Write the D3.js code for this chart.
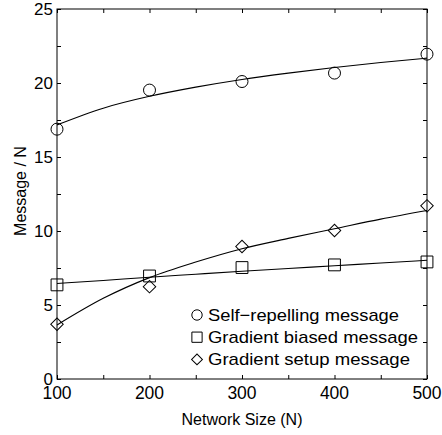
<!DOCTYPE html>
<html>
<head>
<meta charset="utf-8">
<script src="https://cdn.jsdelivr.net/npm/d3@7"></script>
<style>
  body { margin: 0; background: #fff; }
  text { font-family: "Liberation Sans", Arial, sans-serif; }
</style>
</head>
<body>
<div id="chart"></div>
<script>
// measured points
const sizes = [100, 200, 300, 400, 500];
const selfRepelling = [16.88, 19.52, 20.1, 20.67, 21.95];
const gradientBiased = [6.36, 6.96, 7.53, 7.71, 7.91];
const gradientSetup = [3.7, 6.24, 8.95, 10.03, 11.7];

// fitted curves
const fitSizes = [100, 150, 200, 250, 300, 350, 400, 450, 500];
const selfFit = [17.17, 18.3, 19.1, 19.72, 20.24, 20.67, 21.05, 21.38, 21.68];
const biasedFit = [6.45, 6.66, 6.88, 7.08, 7.28, 7.47, 7.65, 7.84, 8.02];
const setupFit = [3.65, 5.45, 6.85, 7.9, 8.8, 9.5, 10.15, 10.8, 11.38];

const xTicks = [100, 200, 300, 400, 500];
const yTicks = [0, 5, 10, 15, 20, 25];
const legendLabels = ["Self\u2212repelling message", "Gradient biased message", "Gradient setup message"];

const W = 442, H = 435;
const margin = {top: 9, right: 15, bottom: 56, left: 57};
const width = W - margin.left - margin.right,
    height = H - margin.top - margin.bottom;

const svg = d3.select("#chart")
    .append("svg")
    .attr("width", W)
    .attr("height", H);
const g = svg.append("g")
    .attr("transform", `translate(${margin.left},${margin.top})`);

const x = d3.scaleLinear().domain([100, 500]).range([0, width]);
const y = d3.scaleLinear().domain([0, 25]).range([height, 0]);

const minorX = d3.range(150, 500, 100);
const minorY = d3.range(2.5, 25, 5);

// ticks pointing inward on all four sides
function tickAxis(axis, ticks, len, transform) {
    const a = g.append("g")
        .attr("transform", transform)
        .call(axis.tickValues(ticks).tickSize(len).tickFormat(""));
    a.select(".domain").remove();
    a.selectAll("line").attr("stroke", "#000");
}
tickAxis(d3.axisTop(x), xTicks.concat(minorX), 4, `translate(0,${height})`);
tickAxis(d3.axisBottom(x), xTicks.concat(minorX), 4, "translate(0,0)");
tickAxis(d3.axisRight(y), yTicks.concat(minorY), 4, "translate(0,0)");
tickAxis(d3.axisLeft(y), yTicks.concat(minorY), 4, `translate(${width},0)`);

// box
g.append("rect")
    .attr("width", width)
    .attr("height", height)
    .attr("fill", "none")
    .attr("stroke", "#000")
    .attr("stroke-width", 1);

// tick labels
g.selectAll(".xlab")
    .data(xTicks)
    .enter().append("text")
    .attr("x", d => x(d))
    .attr("y", height + 20)
    .attr("text-anchor", "middle")
    .style("font-size", "17.5px")
    .text(d => d);
g.selectAll(".ylab")
    .data(yTicks)
    .enter().append("text")
    .attr("x", -4)
    .attr("y", d => y(d) + 6)
    .attr("text-anchor", "end")
    .style("font-size", "17px")
    .text(d => d);

// axis titles
svg.append("text")
    .attr("x", margin.left + width / 2)
    .attr("y", 424.5)
    .attr("text-anchor", "middle")
    .style("font-size", "16px")
    .text("Network Size (N)");
svg.append("text")
    .attr("transform", "rotate(-90)")
    .attr("x", -191)
    .attr("y", 26)
    .attr("text-anchor", "middle")
    .style("font-size", "16px")
    .text("Message / N");

// fit lines
const line = d3.line()
    .x(d => x(d[0]))
    .y(d => y(d[1]))
    .curve(d3.curveMonotoneX);
[selfFit, biasedFit, setupFit].forEach(vals => {
    g.append("path")
        .datum(fitSizes.map((s, i) => [s, vals[i]]))
        .attr("d", line)
        .attr("fill", "none")
        .attr("stroke", "#000")
        .attr("stroke-width", 1.1);
});

// markers: circle, square, diamond (square turned 45deg)
const symbols = [d3.symbolCircle, d3.symbolSquare, d3.symbolSquare];
const rotations = [0, 0, 45];
function marker(sel, i, scale) {
    const sizes = [113, 140, 78];
    sel.attr("d", d3.symbol().type(symbols[i]).size(sizes[i] * scale))
        .attr("fill", "none")
        .attr("stroke", "#000")
        .attr("stroke-width", 1);
}
[selfRepelling, gradientBiased, gradientSetup].forEach((vals, i) => {
    g.selectAll(".m" + i)
        .data(sizes.map((s, j) => [s, vals[j]]))
        .enter().append("path")
        .attr("transform", d => `translate(${x(d[0])},${y(d[1])}) rotate(${rotations[i]})`)
        .call(marker, i, 1);
});

// legend
const legendWidths = [191, 210, 202];
const legend = svg.append("g");
legendLabels.forEach((lab, i) => {
    const ly = 315 + i * 22.2;
    legend.append("path")
        .attr("transform", `translate(197,${ly}) rotate(${rotations[i]})`)
        .call(marker, i, 0.75);
    legend.append("text")
        .attr("x", 208)
        .attr("y", ly + 6)
        .attr("textLength", legendWidths[i])
        .attr("lengthAdjust", "spacingAndGlyphs")
        .style("font-size", "17px")
        .text(lab);
});
</script>
</body>
</html>
